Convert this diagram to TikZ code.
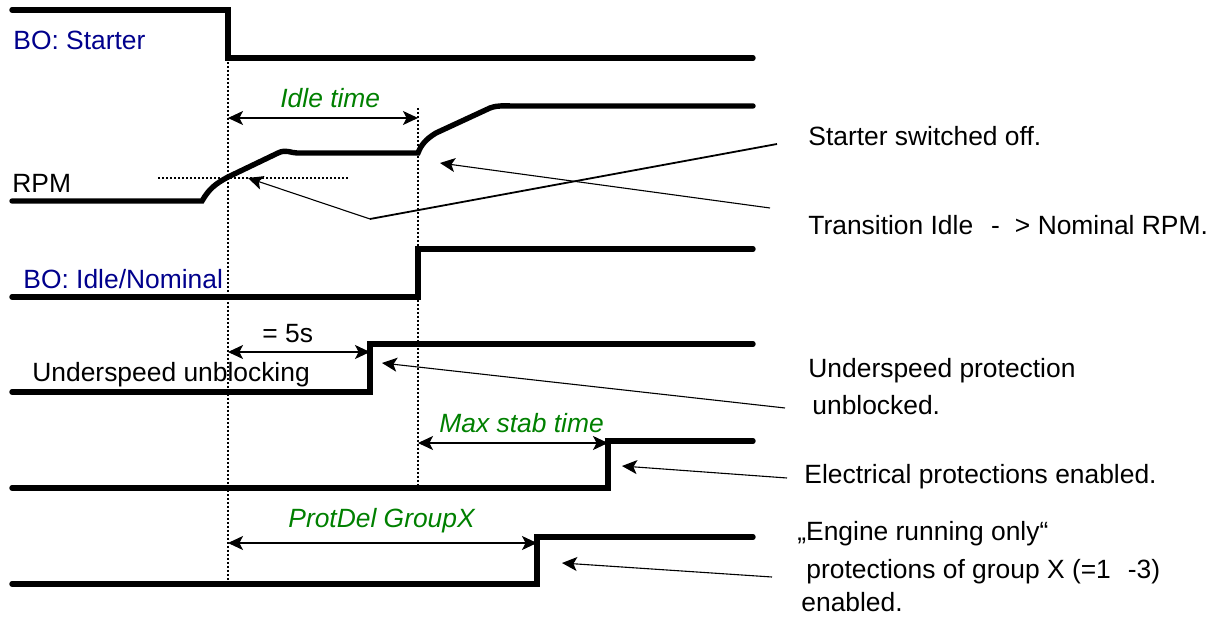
\documentclass[tikz,border=0pt]{standalone}
\usepackage{fontspec}
\setmainfont{Liberation Sans}
\usetikzlibrary{arrows.meta}
\definecolor{navyblue}{RGB}{0,0,140}
\definecolor{labgreen}{RGB}{0,128,0}
\begin{document}
\begin{tikzpicture}[x=0.5pt,y=-0.5pt,
  sig/.style={line width=2.7pt, line cap=round, line join=miter},
  dots/.style={line width=1.4pt, dash pattern=on 1.1pt off 0.9pt},
  tip/.tip={Stealth[length=7.5pt,width=7pt,inset=1.8pt]},
  dim/.style={line width=0.55pt, tip-tip},
  lead/.style={line width=0.55pt, -tip},
  txt/.style={anchor=base west, inner sep=0pt, font=\fontsize{13.2}{15}\selectfont},
  sigl/.style={txt, text=navyblue},
  grn/.style={txt, text=labgreen, font=\fontsize{13.2}{15}\selectfont\itshape},
]
\useasboundingbox (0,0) rectangle (1219,619);

% signals
\draw[sig] (12,10) -- (228,10) -- (228,58) -- (753,58);
\draw[sig] (12,201) -- (202,201) .. controls (209,189) and (215,184) .. (228,177)
  -- (278,153) .. controls (286,149) and (291,153) .. (297,153) -- (418,153)
  .. controls (421,145) and (426,139) .. (436,133) -- (490,108)
  .. controls (498,105) and (505,106) .. (513,106) -- (753,106);
\draw[sig] (12,297) -- (418,297) -- (418,249) -- (753,249);
\draw[sig] (12,392) -- (370,392) -- (370,344) -- (753,344);
\draw[sig] (12,488) -- (608,488) -- (608,441) -- (753,441);
\draw[sig] (12,584) -- (537,584) -- (537,537) -- (753,537);

% dotted guides
\draw[dots] (228,58) -- (228,584);
\draw[dots] (418,108) -- (418,488);
\draw[dots] (158,178) -- (348,178);

% dimension arrows
\coordinate (i1) at (228,118); \coordinate (i2) at (418,118);
\draw[dim] (i1) -- (i2);
\coordinate (f1) at (228,352); \coordinate (f2) at (370,352);
\draw[dim] (f1) -- (f2);
\coordinate (m1) at (418,443); \coordinate (m2) at (608,443);
\draw[dim] (m1) -- (m2);
\coordinate (p1) at (228,543); \coordinate (p2) at (537,543);
\draw[dim] (p1) -- (p2);

\node[grn] (idle) at (280,108) {Idle time};
\node[txt] (five) at (262,343) {= 5s};
\node[grn] (maxstab) at (439,432) {Max stab time};
\node[grn] (protdel) at (288,527) {ProtDel GroupX};

% signal labels
\node[sigl] (lstarter) at (13,50) {BO: Starter};
\node[txt] (lrpm) at (12,193) {RPM};
\node[sigl] (lidle) at (23,289) {BO: Idle/Nominal};
\node[txt] (lunder) at (32,382) {Underspeed unblocking};

% right annotations
\node[txt] (a1) at (808,146) {Starter switched off.};
\node[txt] (a2) at (808,235) {Transition Idle\hspace{9pt}-\hspace{7.5pt}> Nominal RPM.};
\node[txt] (a3) at (808,378) {Underspeed protection};
\node[txt] (a3b) at (812,415) {unblocked.};
\node[txt] (a4) at (804,483) {Electrical protections enabled.};
\node[txt] (a5) at (797,540) {„Engine running only“};
\node[txt] (a5b) at (806,578) {protections of group X (=1\hspace{8.5pt}-3)};
\node[txt] (a5c) at (801,611) {enabled.};

% leader lines
\coordinate (s0) at (777,144); \coordinate (s1) at (370,219); \coordinate (s2) at (248,178);
\draw[line width=0.9pt] (s0) -- (s1);
\draw[lead] (s1) -- (s2);
\coordinate (t0) at (770,208); \coordinate (t1) at (440,163);
\draw[lead] (t0) -- (t1);
\coordinate (u0) at (785,408); \coordinate (u1) at (382,363);
\draw[lead] (u0) -- (u1);
\coordinate (e0) at (787,478); \coordinate (e1) at (622,466);
\draw[lead] (e0) -- (e1);
\coordinate (g0) at (772,577); \coordinate (g1) at (562,563);
\draw[lead] (g0) -- (g1);
\end{tikzpicture}
\end{document}
